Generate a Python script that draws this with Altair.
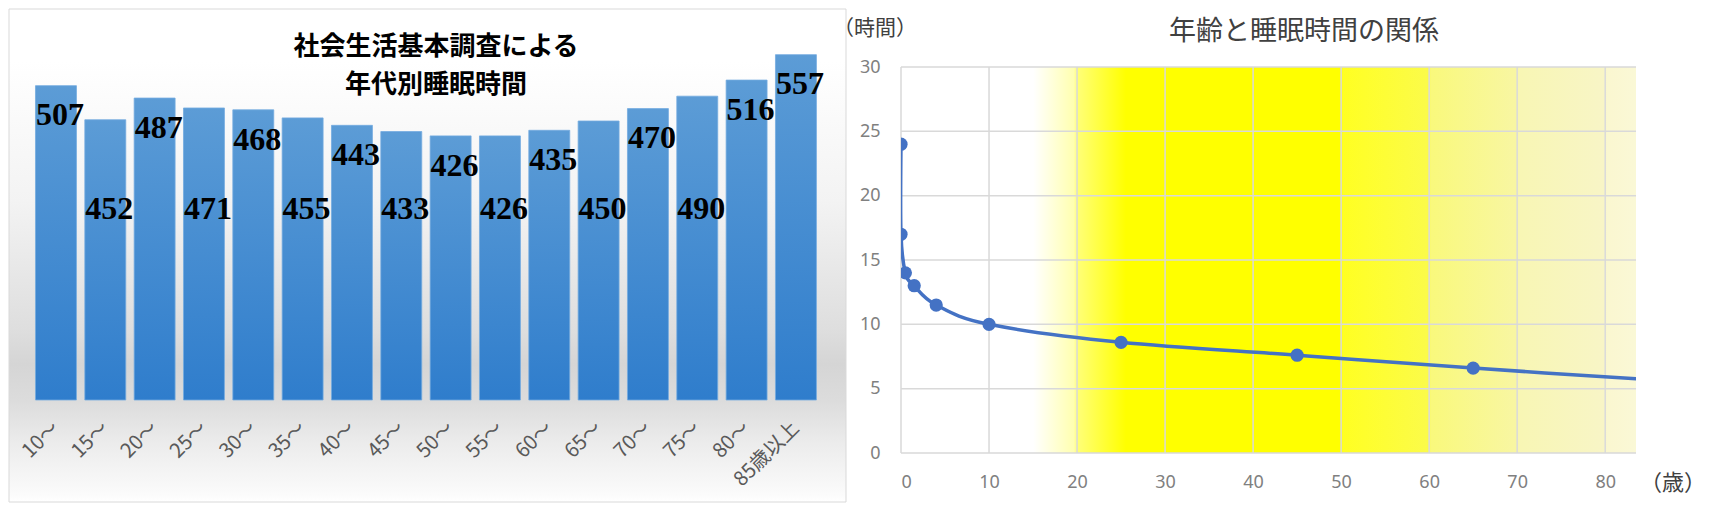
import altair as alt
import pandas as pd

# ---------------- data ----------------
age_groups = ["10～", "15～", "20～", "25～", "30～", "35～", "40～", "45～",
              "50～", "55～", "60～", "65～", "70～", "75～", "80～", "85歳以上"]
sleep_minutes = [507, 452, 487, 471, 468, 455, 443, 433,
                 426, 426, 435, 450, 470, 490, 516, 557]

ages = [0, 0, 0.5, 1.5, 4, 10, 25, 45, 65, 85]
sleep_hours = [24, 17, 14, 13, 11.5, 10, 8.6, 7.6, 6.6, 5.7]

x_ticks = [0, 10, 20, 30, 40, 50, 60, 70, 80]
y_ticks = [0, 5, 10, 15, 20, 25, 30]

left_title = ["社会生活基本調査による", "年代別睡眠時間"]
right_title = "年齢と睡眠時間の関係"
y_unit = "（時間）"
x_unit = "（歳）"

# ---------------- left chart ----------------
LW, LH = 837, 386
bar_df = pd.DataFrame({"age": age_groups, "minutes": sleep_minutes,
                       "idx": list(range(len(age_groups)))})
one = pd.DataFrame({"k": [0]})

xs = alt.Scale(domain=age_groups, range=[22.3, 811.6],
               paddingInner=0.17, paddingOuter=0.085)
ys = alt.Scale(domain=[0, 600], range=[333, -39], nice=False)

left_bg_grad = alt.Gradient(
    gradient="linear", x1=0, y1=0, x2=0, y2=1,
    stops=[
        alt.GradientStop(offset=0, color="#ffffff"),
        alt.GradientStop(offset=0.105, color="#ffffff"),
        alt.GradientStop(offset=0.39, color="#f3f3f3"),
        alt.GradientStop(offset=0.65, color="#dedede"),
        alt.GradientStop(offset=0.72, color="#d5d5d5"),
        alt.GradientStop(offset=0.795, color="#dcdcdc"),
        alt.GradientStop(offset=0.876, color="#ebebeb"),
        alt.GradientStop(offset=0.985, color="#fbfbfb"),
        alt.GradientStop(offset=1, color="#ffffff"),
    ],
)
bar_grad = alt.Gradient(
    gradient="linear", x1=0, y1=0, x2=0, y2=1,
    stops=[
        alt.GradientStop(offset=0, color="#5c9cd6"),
        alt.GradientStop(offset=1, color="#2f7dcc"),
    ],
)

left_bg = alt.Chart(one).mark_rect(
    fill=left_bg_grad, stroke="#d9d9d9", strokeWidth=1
).encode(x=alt.value(0), x2=alt.value(LW), y=alt.value(-58), y2=alt.value(435))

bars = alt.Chart(bar_df).mark_bar(
    fill=bar_grad, stroke="#74abe0", strokeWidth=0.8
).encode(
    x=alt.X("age:N", scale=xs, axis=None),
    y=alt.Y("minutes:Q", scale=ys, axis=None),
)

bar_labels = alt.Chart(bar_df).transform_calculate(
    label_y="datum.idx % 2 == 1 && datum.idx < 15 ? 308 : datum.minutes - 48"
).mark_text(
    font="Liberation Serif", fontWeight="bold", fontSize=32, color="#000000",
    baseline="middle", align="center", dx=4
).encode(
    x=alt.X("age:N", scale=xs, axis=None),
    y=alt.Y("label_y:Q", scale=ys, axis=None),
    text=alt.Text("minutes:Q"),
)

cat_labels = alt.Chart(bar_df).mark_text(
    angle=315, align="right", baseline="middle", fontSize=20,
    font="Noto Sans CJK JP", color="#595959"
).encode(
    x=alt.X("age:N", scale=xs, axis=None),
    y=alt.value(358),
    text=alt.Text("age:N"),
)

ltitle = alt.Chart(one).mark_text(
    font="Noto Sans CJK JP", fontWeight="bold", fontSize=26, color="#000000",
    align="center", baseline="middle", lineHeight=38
).encode(x=alt.value(427), y=alt.value(-20), text=alt.value(left_title))

left = alt.layer(left_bg, bars, bar_labels, cat_labels, ltitle).properties(
    width=LW, height=LH
)

# ---------------- right chart ----------------
RW, RH = 735, 386
line_df = pd.DataFrame({"age": ages, "hours": sleep_hours})

rx = alt.Scale(domain=[0, 83.5], nice=False, zero=False)
ry = alt.Scale(domain=[0, 30], nice=False)
xaxis = alt.Axis(values=x_ticks, grid=False, domain=False, ticks=False,
                 labelPadding=20, labelFontSize=18, labelColor="#808080",
                 labelFont="Noto Sans", title=None)
yaxis = alt.Axis(values=y_ticks, grid=False, domain=False, ticks=False,
                 labelPadding=21, labelFontSize=18, labelColor="#808080",
                 labelFont="Noto Sans", title=None)

right_bg_grad = alt.Gradient(
    gradient="linear", x1=0, y1=0, x2=1, y2=0,
    stops=[
        alt.GradientStop(offset=0, color="#ffffff"),
        alt.GradientStop(offset=0.18, color="#ffffff"),
        alt.GradientStop(offset=0.235, color="#ffffb0"),
        alt.GradientStop(offset=0.24, color="#ffff78"),
        alt.GradientStop(offset=0.306, color="#ffff00"),
        alt.GradientStop(offset=0.597, color="#ffff00"),
        alt.GradientStop(offset=0.601, color="#ffff22"),
        alt.GradientStop(offset=0.717, color="#fbfb4a"),
        alt.GradientStop(offset=0.721, color="#f9f97c"),
        alt.GradientStop(offset=0.837, color="#f8f6a2"),
        alt.GradientStop(offset=0.841, color="#f8f6b4"),
        alt.GradientStop(offset=0.956, color="#f8f5c6"),
        alt.GradientStop(offset=0.961, color="#faf7d0"),
        alt.GradientStop(offset=1, color="#faf8d6"),
    ],
)

right_bg = alt.Chart(one).mark_rect(fill=right_bg_grad).encode(
    x=alt.value(0), x2=alt.value(RW), y=alt.value(0), y2=alt.value(RH)
)

vgrid = alt.Chart(pd.DataFrame({"t": x_ticks})).mark_rule(
    color="#d9d9d9", strokeWidth=1.5
).encode(x=alt.X("t:Q", scale=rx, axis=xaxis))
hgrid = alt.Chart(pd.DataFrame({"t": y_ticks})).mark_rule(
    color="#d9d9d9", strokeWidth=1.5
).encode(y=alt.Y("t:Q", scale=ry, axis=yaxis))

line = alt.Chart(line_df).mark_line(
    interpolate="cardinal", color="#4472c4", strokeWidth=3.5, clip=True
).encode(
    x=alt.X("age:Q", scale=rx, axis=xaxis),
    y=alt.Y("hours:Q", scale=ry, axis=yaxis),
)
pts = alt.Chart(line_df).mark_circle(
    size=175, color="#4472c4", opacity=1, clip=True
).encode(
    x=alt.X("age:Q", scale=rx, axis=xaxis),
    y=alt.Y("hours:Q", scale=ry, axis=yaxis),
)

rtitle = alt.Chart(pd.DataFrame({"t": [right_title]})).mark_text(
    font="Noto Sans CJK JP", fontSize=27, color="#404040",
    align="center", baseline="middle"
).encode(x=alt.value(403), y=alt.value(-35), text="t:N")
yunit = alt.Chart(pd.DataFrame({"t": [y_unit]})).mark_text(
    font="Noto Sans CJK JP", fontSize=21, color="#404040",
    align="left", baseline="middle"
).encode(x=alt.value(-68), y=alt.value(-38), text="t:N")
xunit = alt.Chart(pd.DataFrame({"t": [x_unit]})).mark_text(
    font="Noto Sans CJK JP", fontSize=22, color="#404040",
    align="center", baseline="middle"
).encode(x=alt.value(772), y=alt.value(416), text="t:N")

right = alt.layer(right_bg, vgrid, hgrid, line, pts, rtitle, yunit, xunit).properties(
    width=RW, height=RH
)

chart = alt.hconcat(left, right, spacing=55, bounds="flush").properties(
    padding=0
).configure_view(strokeWidth=0)

chart.save("out.html", embed_options={"renderer": "svg", "actions": False})
